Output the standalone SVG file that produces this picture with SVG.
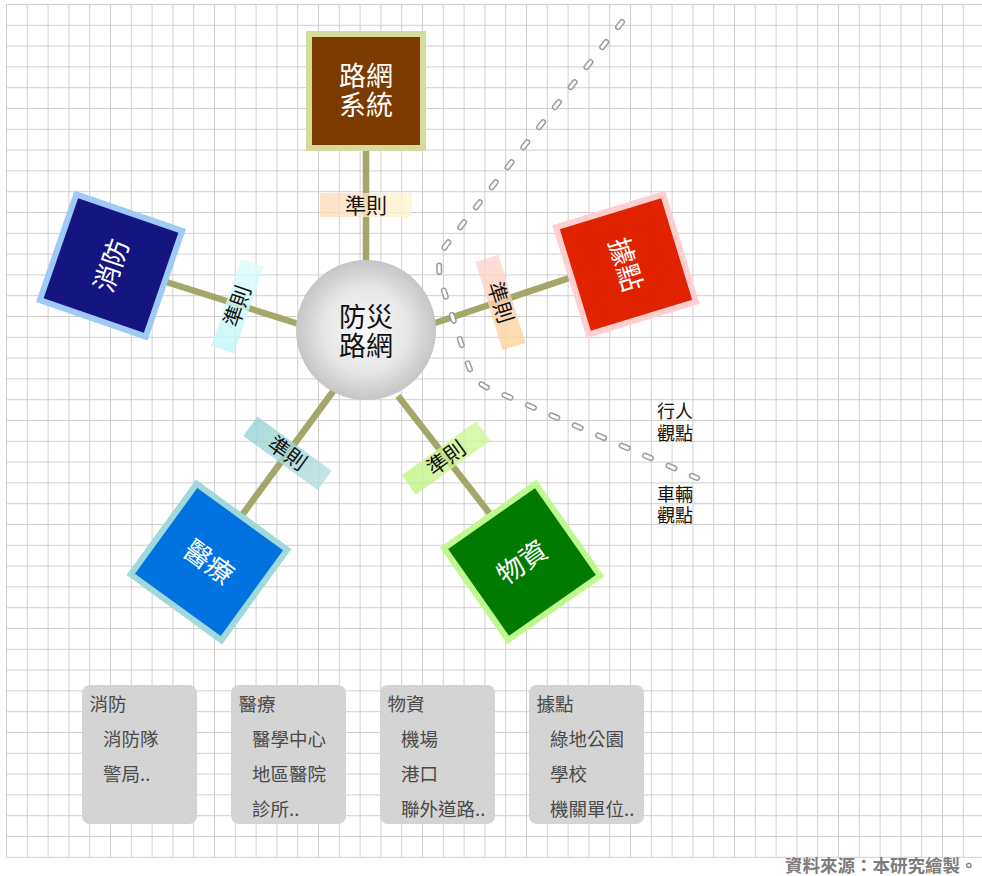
<svg xmlns="http://www.w3.org/2000/svg" width="982" height="876" viewBox="0 0 982 876">
<defs>
<pattern id="grid" x="6" y="4" width="20.8" height="20.8" patternUnits="userSpaceOnUse">
<path d="M0 0.5H20.8M0.5 0V20.8" fill="none" stroke="#cfcfcf" stroke-width="1"/>
</pattern>
<radialGradient id="ball" cx="0.5" cy="0.5" r="0.5">
<stop offset="0" stop-color="#fafafa"/>
<stop offset="0.6" stop-color="#e6e6e6"/>
<stop offset="1" stop-color="#c6c6c6"/>
</radialGradient>
<linearGradient id="gTop" x1="0" y1="0" x2="1" y2="0"><stop offset="0" stop-color="#fcd9b8"/><stop offset="1" stop-color="#fff6d2"/></linearGradient>
<linearGradient id="gLeft" x1="0" y1="0" x2="1" y2="0"><stop offset="0" stop-color="#c2f6f6"/><stop offset="1" stop-color="#dcfcfc"/></linearGradient>
<linearGradient id="gRight" x1="0" y1="0" x2="1" y2="0"><stop offset="0" stop-color="#ffd2d2"/><stop offset="1" stop-color="#fdd496"/></linearGradient>
<linearGradient id="gBL" x1="0" y1="0" x2="1" y2="0"><stop offset="0" stop-color="#98d3d3"/><stop offset="1" stop-color="#b4dddd"/></linearGradient>
<linearGradient id="gBR" x1="0" y1="0" x2="1" y2="0"><stop offset="0" stop-color="#c2f286"/><stop offset="1" stop-color="#d2f69c"/></linearGradient>
</defs>
<style>
text{font-family:"Noto Sans CJK TC","Noto Sans CJK SC",sans-serif}
.conn{stroke:#a4a66a;stroke-width:6.5;fill:none}
.sq{stroke-width:6}
.nt{font-size:27px;fill:#ffffff;text-anchor:middle}
.ct{font-size:27px;fill:#111111;text-anchor:middle}
.lb rect{opacity:0.8}
.lb text{font-size:21px;fill:#111111;text-anchor:middle}
.dashO{fill:none;stroke:#9c9c9c;stroke-width:6;stroke-dasharray:6.5 19;stroke-linecap:round}
.dashI{fill:none;stroke:#ffffff;stroke-width:3;stroke-dasharray:6.5 19;stroke-linecap:round}
.side{font-size:18px;fill:#111111}
.leg rect{fill:#d4d4d4}
.leg text{font-size:18.5px;fill:#4a4a4a}
.foot{font-size:17.5px;fill:#7c7c7c;font-weight:bold}
</style>
<rect x="0" y="0" width="982" height="876" fill="#ffffff"/>
<rect x="6" y="4" width="976" height="854" fill="url(#grid)"/>

<g id="connectors">
<line class="conn" x1="366" y1="150" x2="366" y2="264"/>
<line class="conn" x1="111" y1="264.5" x2="302" y2="325"/>
<line class="conn" x1="432" y1="324" x2="626" y2="259"/>
<line class="conn" x1="337" y1="386" x2="209" y2="560"/>
<line class="conn" x1="398" y1="396" x2="522" y2="555"/>
<path class="dashO" d="M622 22 L447 244 C437 257 438 272 442 285 L466 358 C470 372 475 382 488 388 L697 478"/>
<path class="dashI" d="M622 22 L447 244 C437 257 438 272 442 285 L466 358 C470 372 475 382 488 388 L697 478"/>
</g>

<g id="node-center">
<circle cx="366" cy="330" r="70" fill="url(#ball)"/>
<text class="ct"><tspan x="366" y="327">防災</tspan><tspan x="366" y="356">路網</tspan></text>
</g>

<g id="node-road" transform="translate(366,91)">
<rect class="sq" x="-57" y="-57" width="114" height="114" fill="#7a3a00" stroke="#d5db9d"/>
<text class="nt"><tspan x="0" y="-5.5">路網</tspan><tspan x="0" y="23.5">系統</tspan></text>
</g>

<g id="node-fire" transform="translate(111,265.5) rotate(-71)">
<rect class="sq" x="-56" y="-56" width="112" height="112" fill="#151582" stroke="#9fcaf6"/>
<text class="nt" x="0" y="10">消防</text>
</g>

<g id="node-base" transform="translate(626,264.5) rotate(73)">
<rect class="sq" x="-56" y="-56" width="112" height="112" fill="#e02200" stroke="#ffcfcf"/>
<text class="nt" x="0" y="10">據點</text>
</g>

<g id="node-medical" transform="translate(209,562) rotate(36)">
<rect class="sq" x="-56" y="-56" width="112" height="112" fill="#0073e0" stroke="#a0d8dc"/>
<text class="nt" x="0" y="10">醫療</text>
</g>

<g id="node-supply" transform="translate(522,562) rotate(-35)">
<rect class="sq" x="-56" y="-56" width="112" height="112" fill="#007a00" stroke="#c0f890"/>
<text class="nt" x="0" y="10">物資</text>
</g>

<g id="label-top" class="lb" transform="translate(366,205)">
<rect x="-46" y="-12" width="92" height="24" fill="url(#gTop)"/>
<text x="0" y="7.5">準則</text>
</g>
<g id="label-left" class="lb" transform="translate(237.5,306) rotate(-71)">
<rect x="-46" y="-12" width="92" height="24" fill="url(#gLeft)"/>
<text x="0" y="7.5">準則</text>
</g>
<g id="label-right" class="lb" transform="translate(500.5,302.5) rotate(73)">
<rect x="-46" y="-12" width="92" height="24" fill="url(#gRight)"/>
<text x="0" y="7.5">準則</text>
</g>
<g id="label-bl" class="lb" transform="translate(287.5,453.3) rotate(36)">
<rect x="-46" y="-12" width="92" height="24" fill="url(#gBL)"/>
<text x="0" y="7.5">準則</text>
</g>
<g id="label-br" class="lb" transform="translate(446,458) rotate(-36)">
<rect x="-46" y="-12" width="92" height="24" fill="url(#gBR)"/>
<text x="0" y="7.5">準則</text>
</g>

<g id="side-labels">
<text class="side"><tspan x="657" y="418">行人</tspan><tspan x="657" y="440">觀點</tspan></text>
<text class="side"><tspan x="657" y="501">車輛</tspan><tspan x="657" y="522">觀點</tspan></text>
</g>

<g id="legend-fire" class="leg">
<rect x="82" y="685" width="115" height="139" rx="8"/>
<text x="89.5" y="711">消防</text>
<text x="103" y="746">消防隊</text>
<text x="103" y="781">警局..</text>
</g>
<g id="legend-medical" class="leg">
<rect x="231" y="685" width="115" height="139" rx="8"/>
<text x="238.5" y="711">醫療</text>
<text x="252" y="746">醫學中心</text>
<text x="252" y="781">地區醫院</text>
<text x="252" y="816">診所..</text>
</g>
<g id="legend-supply" class="leg">
<rect x="380" y="685" width="115" height="139" rx="8"/>
<text x="387.5" y="711">物資</text>
<text x="401" y="746">機場</text>
<text x="401" y="781">港口</text>
<text x="401" y="816">聯外道路..</text>
</g>
<g id="legend-base" class="leg">
<rect x="529" y="685" width="115" height="139" rx="8"/>
<text x="536.5" y="711">據點</text>
<text x="550" y="746">綠地公園</text>
<text x="550" y="781">學校</text>
<text x="550" y="816">機關單位..</text>
</g>

<text class="foot" x="785" y="872">資料來源：本研究繪製。</text>
</svg>
